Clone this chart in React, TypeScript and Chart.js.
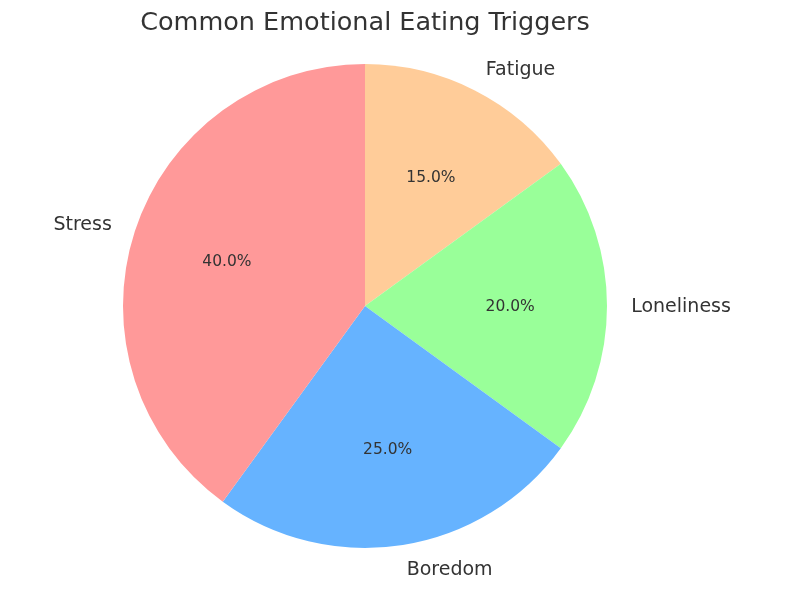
import { useEffect, useRef } from "react";
import { Chart, registerables } from "chart.js";

Chart.register(...registerables);

// clockwise from 12 o'clock (the reference runs counter-clockwise from the top)
const triggers = ["Fatigue", "Loneliness", "Boredom", "Stress"];
const shares = [15, 20, 25, 40];
const sliceColors = ["#ffcc99", "#99ff99", "#66b3ff", "#ff9999"];
const chartTitle = "Common Emotional Eating Triggers";

const FONT = "'DejaVu Sans', sans-serif";
const TEXT = "#333333";

const pieLabels = {
    id: "pieLabels",
    afterDatasetsDraw(chart: any) {
        const ctx = chart.ctx;
        const meta = chart.getDatasetMeta(0);
        ctx.save();
        ctx.fillStyle = TEXT;
        meta.data.forEach((arc: any, i: number) => {
            const { x, y, startAngle, endAngle, outerRadius } = arc.getProps(
                ["x", "y", "startAngle", "endAngle", "outerRadius"],
                true
            );
            const mid = (startAngle + endAngle) / 2;
            const cx = Math.cos(mid);
            const cy = Math.sin(mid);

            // percentage inside
            ctx.font = `15.5px ${FONT}`;
            ctx.textAlign = "center";
            ctx.textBaseline = "middle";
            ctx.fillText(
                shares[i].toFixed(1) + "%",
                x + cx * outerRadius * 0.6,
                y + cy * outerRadius * 0.6 + 1
            );

            // category label outside
            ctx.font = `19px ${FONT}`;
            ctx.textAlign = cx > 0.001 ? "left" : cx < -0.001 ? "right" : "center";
            ctx.fillText(
                triggers[i],
                x + cx * outerRadius * 1.1,
                y + cy * outerRadius * 1.1 + 1
            );
        });

        ctx.font = `25.5px ${FONT}`;
        ctx.textAlign = "center";
        ctx.textBaseline = "middle";
        ctx.fillText(chartTitle, 365, 23);
        ctx.restore();
    },
};

const PieChart = () => {
    const chartRef = useRef<HTMLCanvasElement>(null);

    useEffect(() => {
        let chartInstance: Chart | undefined;
        if (chartRef.current) {
            chartInstance = new Chart(chartRef.current, {
                type: "pie",
                data: {
                    labels: triggers,
                    datasets: [
                        {
                            data: shares,
                            backgroundColor: sliceColors,
                            borderWidth: 0,
                        },
                    ],
                },
                options: {
                    responsive: false,
                    animation: false,
                    rotation: 0,
                    layout: { padding: { top: 64, bottom: 42, left: 0, right: 60 } },
                    plugins: {
                        legend: { display: false },
                        tooltip: { enabled: false },
                        title: { display: false },
                    },
                },
                plugins: [pieLabels],
            });
        }
        return () => {
            if (chartInstance) {
                chartInstance.destroy();
            }
        };
    }, []);

    return <canvas ref={chartRef} width={790} height={590} />;
};

export default function App() {
    return (
        <div style={{ position: "absolute", left: 0, top: 0, width: 790, height: 590, background: "#ffffff" }}>
            <PieChart />
        </div>
    );
}
